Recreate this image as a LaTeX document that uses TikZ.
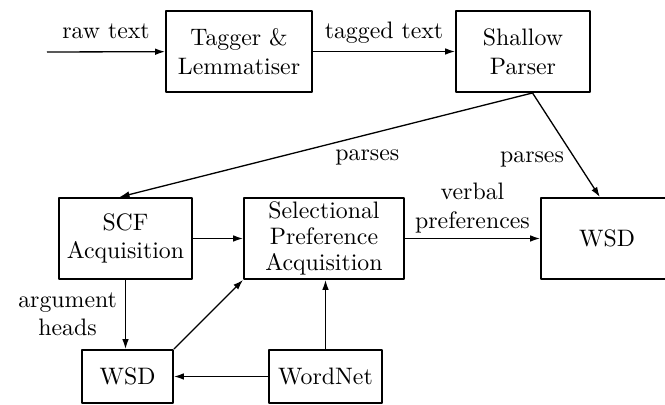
\documentclass[tikz,border=0pt]{standalone}
\usetikzlibrary{arrows.meta}
\begin{document}
\begin{tikzpicture}[x=0.42pt,y=-0.42pt,line join=round,
  box/.style={draw,line width=0.8pt,align=center,inner sep=0pt},
  arr/.style={line width=0.55pt,-{Latex[length=4.2pt,width=2.8pt]}}]
	\useasboundingbox (0,0) rectangle (665,405);
	\node[box,minimum width=146*0.42pt,minimum height=81*0.42pt] (tagger) at (239,51.5) {Tagger \&\\Lemmatiser};
	\node[box,minimum width=134*0.42pt,minimum height=81*0.42pt] (shallow) at (523,51.5) {Shallow\\Parser};
	\node[box,minimum width=133*0.42pt,minimum height=81*0.42pt] (scf) at (125.5,238.5) {SCF\\Acquisition};
	\node[box,minimum width=160*0.42pt,minimum height=81*0.42pt,font=\linespread{0.9}\selectfont] (sel) at (324,238.5) {Selectional\\Preference\\Acquisition};
	\node[box,minimum width=132*0.42pt,minimum height=81*0.42pt] (wsdR) at (607,238.5) {WSD};
	\node[box,minimum width=91*0.42pt,minimum height=53*0.42pt] (wsd) at (127.5,376.5) {WSD};
	\node[box,minimum width=113*0.42pt,minimum height=53*0.42pt] (wordnet) at (325.5,376.5) {WordNet};
	\coordinate (in) at (47,52);
	\draw[arr] (in) -- node[above=2pt,text depth=0pt] {raw text} (tagger);
	\draw[arr] (tagger) -- node[above=2pt,text depth=0pt] {tagged text} (shallow);
	\draw[arr] ([xshift=4pt]shallow.south) -- node[pos=0.4,below=3pt] {parses} ([xshift=-2.5pt]scf.north);
	\draw[arr] ([xshift=4pt]shallow.south) -- node[pos=0.594,left,yshift=-2pt] {parses} ([xshift=-3pt]wsdR.north);
	\draw[arr] (scf) -- (sel);
	\draw[arr] (sel) -- node[above,align=center,yshift=-1.2pt] {verbal\\preferences} (wsdR);
	\draw[arr] (scf.south) -- node[left,align=center] {argument\\heads} (scf.south |- wsd.north);
	\draw[arr] (wsd.north east) -- (sel.south west);
	\draw[arr] (wordnet.north) -- (wordnet.north |- sel.south);
	\draw[arr] (wordnet) -- (wsd);
\end{tikzpicture}
\end{document}
